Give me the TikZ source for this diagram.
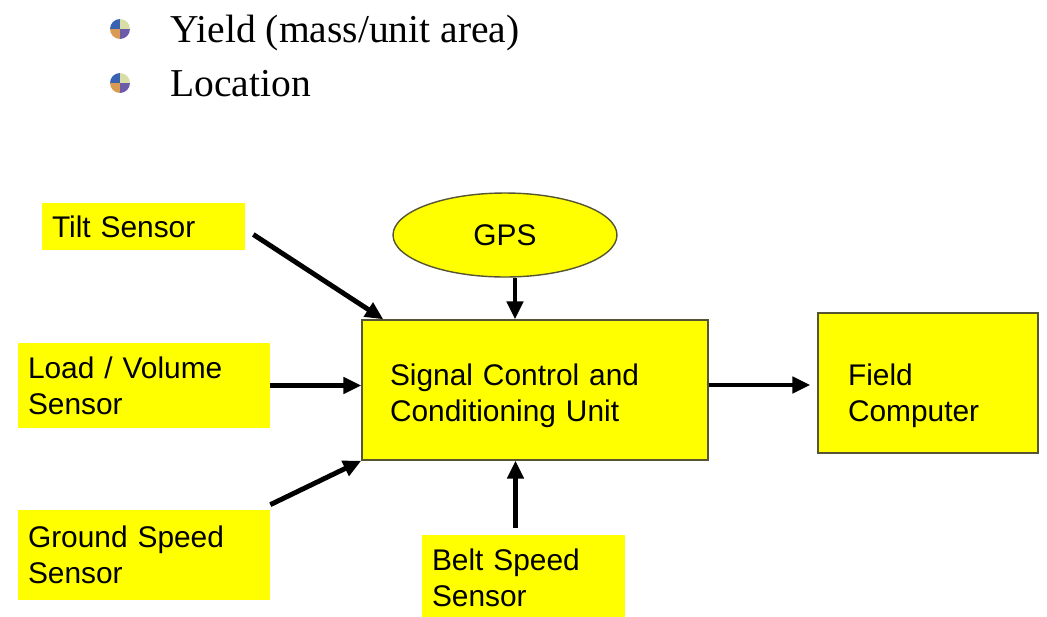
\documentclass[tikz,border=0pt]{standalone}
\usepackage{fontspec}
\setmainfont{Liberation Serif}
\newfontfamily\arialfont{Liberation Sans}
\usepackage{tikz}
\usetikzlibrary{arrows.meta, positioning, calc, shapes.geometric}

\definecolor{boxyellow}{HTML}{FFFF00}
\definecolor{boxedge}{HTML}{555533}
\definecolor{bblue}{HTML}{3A62B2}
\definecolor{bpale}{HTML}{D9DDA6}
\definecolor{borange}{HTML}{D99A52}
\definecolor{bpurple}{HTML}{6B5BA8}

\begin{document}
\begin{tikzpicture}[
  x=0.02cm, y=-0.02cm,
  every node/.style={font=\arialfont\fontsize{17}{20.5}\selectfont, align=left},
  sensor/.style={fill=boxyellow, inner xsep=0.2cm, inner ysep=0pt},
  unitbox/.style={fill=boxyellow, draw=boxedge, line width=0.8pt,
                  inner xsep=0.56cm, inner ysep=0pt},
  bullettext/.style={font=\fontsize{22.5}{27}\selectfont, anchor=base west, inner sep=0pt},
  arr/.style={-{Triangle[length=0.36cm, width=0.32cm]}, line width=2.8pt},
]
  \useasboundingbox (0,0) rectangle (1047,616);

  % bullet list
  \foreach \y in {29,83} {
    \begin{scope}
      \clip (120,\y) circle[radius=0.2cm];
      \fill[bblue]   (110,\y-10) rectangle (120,\y);
      \fill[bpale]   (120,\y-10) rectangle (130,\y);
      \fill[borange] (110,\y) rectangle (120,\y+10);
      \fill[bpurple] (120,\y) rectangle (130,\y+10);
    \end{scope}
  }
  \node[bullettext] (yield) at (170,42) {Yield (mass/unit area)};
  \node[bullettext] (loc)   at (170,96) {Location};

  % boxes
  \node[sensor, minimum width=4.06cm, minimum height=0.94cm, text width=3.66cm]
    (tilt) at (143.5,226.5) {Tilt Sensor};
  \node[sensor, minimum width=5.04cm, minimum height=1.7cm, text width=4.64cm]
    (load) at (144,385.5) {Load / Volume\\Sensor};
  \node[sensor, minimum width=5.04cm, minimum height=1.8cm, text width=4.64cm]
    (ground) at (144,555) {Ground Speed\\Sensor};
  \node[sensor, minimum width=4.06cm, minimum height=1.7cm, text width=3.66cm]
    (belt) at (523.5,577.5) {Belt Speed\\Sensor};
  \node[ellipse, fill=boxyellow, draw=boxedge, line width=0.8pt,
        minimum width=4.48cm, minimum height=1.68cm, align=center]
    (gps) at (505,235) {GPS};
  \node[unitbox, minimum width=6.92cm, minimum height=2.8cm, text width=5.8cm]
    (unit) at (535,390) {\rule{0pt}{0.68cm}Signal Control and\\Conditioning Unit};
  \node[unitbox, minimum width=4.4cm, minimum height=2.8cm, text width=3.2cm]
    (field) at (928,383) {\rule{0pt}{0.96cm}Field\\Computer};

  % connectors
  \coordinate (gpsout)  at ($(gps.south)+(10,0)$);
  \coordinate (beltout) at ($(belt.north)+(-8,-7)$);
  \draw[arr] ($(tilt.east)+(8,8)$) -- ($(unit.north west)+(22,0)$);
  \draw[arr] (load.east) -- (load.east -| unit.west);
  \draw[arr] ($(ground.north east)+(0,-5)$) -- (unit.south west);
  \draw[arr] (gpsout) -- (gpsout |- unit.north);
  \draw[arr] (beltout) -- (beltout |- unit.south);
  \draw[arr] ($(unit.east)+(0,-5)$) -- ($(field.west)+(-7,2)$);
\end{tikzpicture}
\end{document}
